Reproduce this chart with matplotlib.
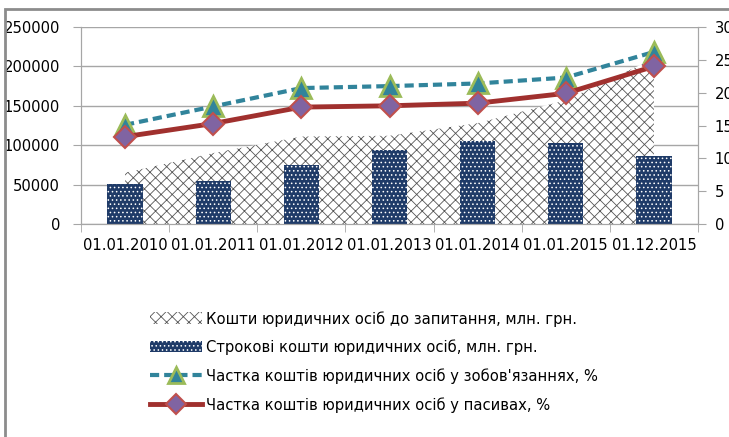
import numpy as np
import matplotlib
matplotlib.use('Agg')
import matplotlib.pyplot as plt
from matplotlib.patches import Rectangle
from matplotlib.lines import Line2D
from matplotlib.ticker import FixedLocator

plt.rcParams['font.family'] = ['DejaVu Sans Condensed', 'DejaVu Sans']
plt.rcParams['font.stretch'] = 'condensed'

dates = ['01.01.2010', '01.01.2011', '01.01.2012', '01.01.2013',
         '01.01.2014', '01.01.2015', '01.12.2015']
demand = [65000, 90000, 111000, 112000, 128000, 157000, 210000]
term = [50500, 55000, 75000, 94000, 105000, 103000, 86000]
share_liab = [15.1, 17.9, 20.7, 21.0, 21.4, 22.3, 26.2]
share_pass = [13.3, 15.3, 17.8, 18.0, 18.4, 19.9, 24.0]

labels = ['Кошти юридичних осіб до запитання, млн. грн.',
          'Строкові кошти юридичних осіб, млн. грн.',
          "Частка коштів юридичних осіб у зобов'язаннях, %",
          'Частка коштів юридичних осіб у пасивах, %']

W, H = 729, 437
fig = plt.figure(figsize=(W / 100, H / 100), dpi=100)
ax = fig.add_axes([81 / W, 1 - 224 / H, (698 - 81) / W, (224 - 27) / H])
ax2 = ax.twinx()

x = np.arange(len(dates))
grid_c = '#a6a6a6'
fs = 11.8

# area (demand deposits)
plt.rcParams['hatch.linewidth'] = 0.6
ax.fill_between(x, demand, color='white', edgecolor='#555555',
                hatch='xxx', linewidth=0, zorder=1)
# bars (term deposits)
ax.bar(x, term, width=0.4, color='#1f3b68', edgecolor='white',
       hatch='....', linewidth=0, zorder=2)

ax.set_xlim(-0.5, len(dates) - 0.5)
ax.set_ylim(0, 250000)
ax.set_yticks(np.arange(0, 250001, 50000))
ax.yaxis.grid(True, color=grid_c, linewidth=1)
ax.set_axisbelow(True)
ax.set_xticks(x)
ax.set_xticklabels(dates, fontsize=fs)
ax.xaxis.set_minor_locator(FixedLocator(np.arange(-0.5, len(dates), 1)))
ax.tick_params(axis='x', which='major', length=0, pad=10)
ax.tick_params(axis='x', which='minor', length=6, color=grid_c)
ax.tick_params(axis='y', length=6, color=grid_c, labelsize=fs, pad=9)

ax2.set_ylim(0, 30)
ax2.set_yticks(np.arange(0, 31, 5))
ax2.tick_params(axis='y', length=6, color=grid_c, labelsize=fs, pad=6)
ax2.plot(x, share_liab, color='#31849b', linewidth=3, linestyle=(0, (2.2, 1.2)),
         marker='^', markersize=14, markerfacecolor='#31849b',
         markeredgecolor='#9bbb59', markeredgewidth=2, zorder=4)
ax2.plot(x, share_pass, color='#a0302e', linewidth=3.5,
         marker='D', markersize=11, markerfacecolor='#8064a2',
         markeredgecolor='#c0504d', markeredgewidth=1.5, zorder=5)

for a in (ax, ax2):
    a.spines['top'].set_visible(False)
    for s in ('left', 'right', 'bottom'):
        a.spines[s].set_color(grid_c)

# legend
handles = [
    Rectangle((0, 0), 1, 1, facecolor='white', edgecolor='#555555',
              hatch='xxx', linewidth=0),
    Rectangle((0, 0), 1, 1, facecolor='#1f3b68', edgecolor='white',
              hatch='....', linewidth=0),
    Line2D([], [], color='#31849b', linewidth=3, linestyle=(0, (2.2, 1.2)),
           marker='^', markersize=12, markerfacecolor='#31849b',
           markeredgecolor='#9bbb59', markeredgewidth=2),
    Line2D([], [], color='#a0302e', linewidth=3.5, marker='D',
           markersize=10, markerfacecolor='#8064a2',
           markeredgecolor='#c0504d', markeredgewidth=1.5),
]
fig.legend(handles, labels, loc='upper left',
           bbox_to_anchor=(150 / W, 1 - 311 / H), frameon=False,
           fontsize=fs, handlelength=3.2, handletextpad=0.2,
           labelspacing=0.8, borderpad=0, borderaxespad=0)

# outer chart border
fig.patches.append(Rectangle((5 / W, -0.2), 1.2, 1.2 - 9 / H,
                             transform=fig.transFigure, fill=False,
                             edgecolor='#8c8c8c', linewidth=2))

fig.savefig('out.png', dpi=100)
